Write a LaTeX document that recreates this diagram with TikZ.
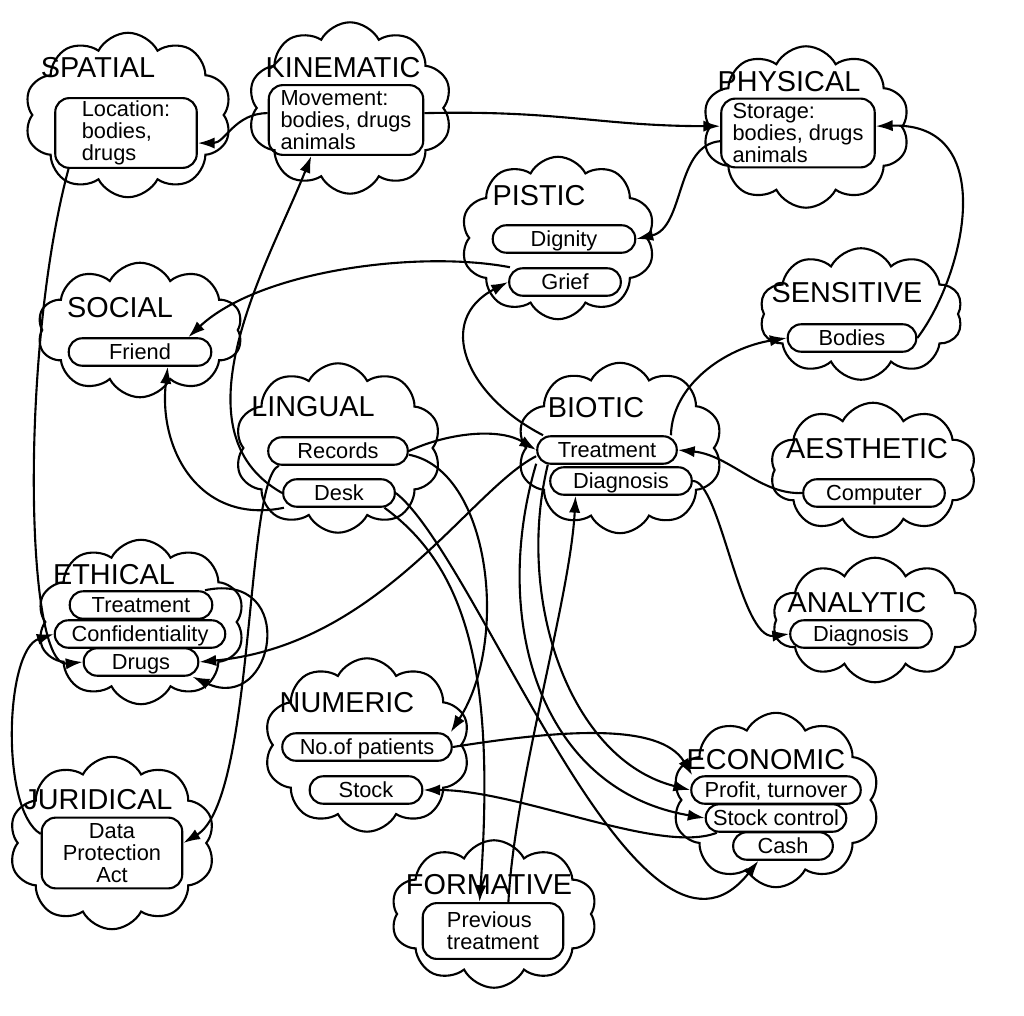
\documentclass[tikz,border=0pt]{standalone}
\usepackage{fontspec}
\setmainfont{Liberation Sans}
\usetikzlibrary{shapes.symbols,arrows.meta}
\newdimen\pxu \pxu=0.7087pt
\newcommand\titlefont{\fontsize{20.5}{22}\selectfont}
\newcommand\itemfont{\fontsize{15.5}{15.5}\selectfont}

\begin{document}
\begin{tikzpicture}[x=0.025cm,y=-0.025cm,line width=1.5pt,
    cloudy/.style={draw,cloud,cloud puffs=10,cloud puff arc=125,cloud ignores aspect,inner sep=0pt},
    ttl/.style={font=\titlefont,inner sep=0pt},
    pill/.style={draw,rounded corners=9.5pt,font=\itemfont,inner sep=0pt,minimum height=27.5\pxu,text height=12.5pt,text depth=1.5pt},
    tall/.style={draw,rounded corners=10pt,font=\itemfont,inner sep=0pt,align=left},
    link/.style={-{Latex[length=12pt,width=8pt]}}]
    \useasboundingbox (0,0) rectangle (1024,1016);

    \node[cloudy,minimum width=208\pxu,minimum height=165\pxu] (cspa) at (128,115) {};
    \node[cloudy,minimum width=205\pxu,minimum height=172\pxu] (ckin) at (350,108) {};
    \node[cloudy,minimum width=208\pxu,minimum height=162\pxu] (cphy) at (806,127) {};
    \node[cloudy,minimum width=195\pxu,minimum height=163\pxu] (cpis) at (558,238) {};
    \node[cloudy,minimum width=206\pxu,minimum height=135\pxu] (csoc) at (140,330) {};
    \node[cloudy,minimum width=204\pxu,minimum height=132\pxu] (csen) at (861,314) {};
    \node[cloudy,minimum width=207\pxu,minimum height=170\pxu] (clin) at (338,448) {};
    \node[cloudy,minimum width=206\pxu,minimum height=171\pxu] (cbio) at (620,448) {};
    \node[cloudy,minimum width=207\pxu,minimum height=135\pxu] (caes) at (873,470) {};
    \node[cloudy,minimum width=206\pxu,minimum height=125\pxu] (cana) at (875,620) {};
    \node[cloudy,minimum width=208\pxu,minimum height=165\pxu] (ceth) at (141,622) {};
    \node[cloudy,minimum width=207\pxu,minimum height=174\pxu] (cnum) at (367,745) {};
    \node[cloudy,minimum width=207\pxu,minimum height=173\pxu] (cjur) at (112,843) {};
    \node[cloudy,minimum width=207\pxu,minimum height=148\pxu] (cfor) at (494,914) {};
    \node[cloudy,minimum width=208\pxu,minimum height=175\pxu] (ceco) at (776,800) {};

    \node[ttl] (tspa) at (98,68) {SPATIAL};
    \node[ttl] (tkin) at (343,68) {KINEMATIC};
    \node[ttl] (tphy) at (789,82) {PHYSICAL};
    \node[ttl] (tpis) at (539,196) {PISTIC};
    \node[ttl] (tsoc) at (120,308) {SOCIAL};
    \node[ttl] (tsen) at (847,293) {SENSITIVE};
    \node[ttl] (tlin) at (313,407) {LINGUAL};
    \node[ttl] (tbio) at (596,408) {BIOTIC};
    \node[ttl] (taes) at (867,449) {AESTHETIC};
    \node[ttl] (tana) at (857,603) {ANALYTIC};
    \node[ttl] (teth) at (114,575) {ETHICAL};
    \node[ttl] (tnum) at (347,703) {NUMERIC};
    \node[ttl] (tjur) at (98,800) {JURIDICAL};
    \node[ttl] (tfor) at (489,885) {FORMATIVE};
    \node[ttl] (teco) at (766,760) {ECONOMIC};

    \node[tall,minimum width=142\pxu,minimum height=70\pxu] (loc) at (126,133) {Location:\\bodies,\\drugs};
    \node[tall,minimum width=155\pxu,minimum height=70\pxu] (mov) at (346,120) {Movement:\\bodies, drugs\\animals};
    \node[tall,minimum width=154\pxu,minimum height=69\pxu] (sto) at (798,133) {Storage:\\bodies, drugs\\animals};
    \node[pill,minimum width=143\pxu] (dig) at (564,239) {Dignity};
    \node[pill,minimum width=112\pxu] (gri) at (565,282) {Grief};
    \node[pill,minimum width=143\pxu] (fri) at (140,352) {Friend};
    \node[pill,minimum width=129\pxu] (bod) at (852,338) {Bodies};
    \node[pill,minimum width=140\pxu] (rec) at (338,451) {Records};
    \node[pill,minimum width=112\pxu] (desk) at (339,493) {Desk};
    \node[pill,minimum width=140\pxu] (btre) at (607,450) {Treatment};
    \node[pill,minimum width=142\pxu] (bdia) at (621,481) {Diagnosis};
    \node[pill,minimum width=142\pxu] (comp) at (874,493) {Computer};
    \node[pill,minimum width=142\pxu] (adia) at (861,634) {Diagnosis};
    \node[pill,minimum width=143\pxu] (etre) at (141,605) {Treatment};
    \node[pill,minimum width=171\pxu] (conf) at (140,634) {Confidentiality};
    \node[pill,minimum width=115\pxu] (edru) at (141,662) {Drugs};
    \node[pill,minimum width=170\pxu] (nop) at (367,747) {No.of patients};
    \node[pill,minimum width=113\pxu] (stk) at (366,790) {Stock};
    \node[tall,align=center,minimum width=141\pxu,minimum height=71\pxu] (dpa) at (112,853) {Data\\Protection\\Act};
    \node[tall,minimum width=141\pxu,minimum height=56\pxu] (prev) at (493,931) {Previous\\treatment};
    \node[pill,minimum width=170\pxu] (prof) at (776,790) {Profit, turnover};
    \node[pill,minimum width=141\pxu] (stc) at (776,818) {Stock control};
    \node[pill,minimum width=100\pxu] (cash) at (783,846) {Cash};

    \draw[link] (mov.175) .. controls (235,113) and (225,143) .. (loc.-8);
    \draw[link] (mov.5) .. controls (560,110) and (600,126) .. (sto.175);
    \draw[link] (sto.186) .. controls (675,145) and (685,228) .. (dig.east);
    \draw[link] (bod.east) .. controls (965,275) and (1000,122) .. (sto.5);
    \draw[link] (gri.165) .. controls (420,250) and (260,270) .. (fri.17);
    \draw[link] (btre.167) .. controls (465,395) and (435,320) .. (gri.west);
    \draw[link] (rec.east) .. controls (450,432) and (500,428) .. (btre.west);
    \draw[link] (btre.-175) .. controls (470,490) and (380,645) .. (edru.east);
    \draw[link] (rec.-3) .. controls (490,470) and (510,640) .. (nop.10);
    \draw[link] (desk.west) .. controls (170,430) and (270,260) .. (mov.-134);
    \draw[link] (desk.-165) .. controls (200,525) and (158,450) .. (fri.-28);
    \draw[link] (rec.-166) .. controls (245,480) and (255,800) .. (dpa.8);
    \draw[link] (loc.-148) .. controls (20,350) and (25,668) .. (edru.west);
    \draw[link] (dpa.165) .. controls (0,810) and (5,650) .. (conf.west);
    \draw[link] (etre.13) .. controls (300,570) and (275,715) .. (edru.-16);
    \draw[link] (btre.13) .. controls (672,385) and (725,348) .. (bod.west);
    \draw[link] (comp.west) .. controls (760,495) and (730,455) .. (btre.east);
    \draw[link] (bdia.east) .. controls (720,480) and (740,640) .. (adia.west);
    \draw[link] (prev.62) .. controls (515,780) and (570,600) .. (bdia.-162);
    \draw[link] (desk.-18) .. controls (470,570) and (495,680) .. (prev.115);
    \draw[link] (desk.east) .. controls (480,560) and (640,1010) .. (cash.-149);
    \draw[link] (btre.-169) .. controls (490,620) and (540,790) .. (stc.west);
    \draw[link] (btre.-166) .. controls (515,600) and (570,760) .. (prof.west);
    \draw[link] (nop.east) .. controls (560,730) and (660,722) .. (prof.170);
    \draw[link] (stc.-166) .. controls (660,855) and (520,790) .. (stk.east);
\end{tikzpicture}
\end{document}
